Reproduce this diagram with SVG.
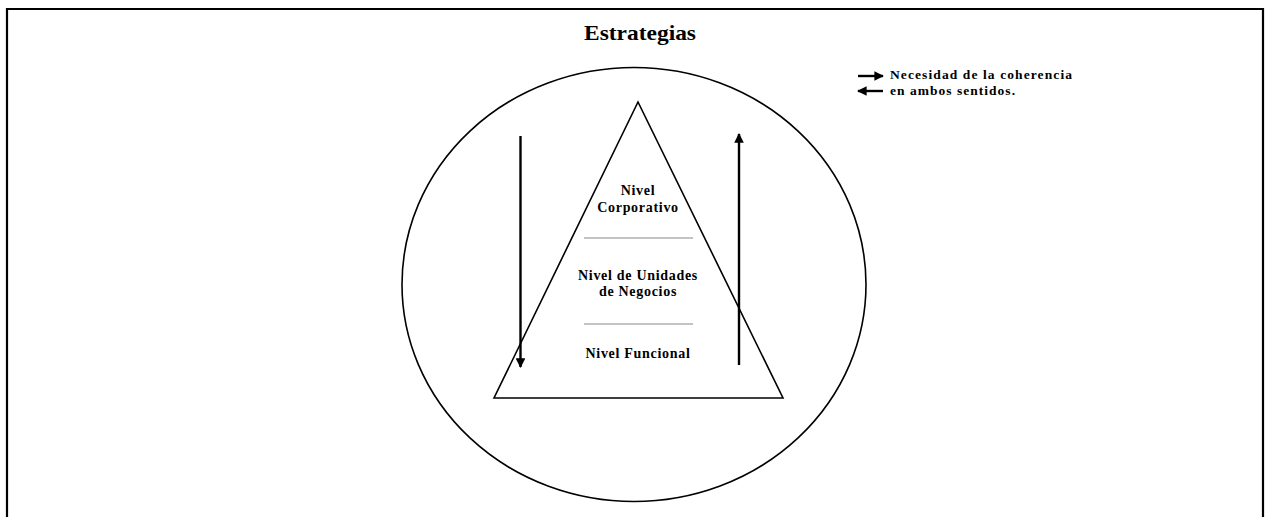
<svg xmlns="http://www.w3.org/2000/svg" width="1269" height="517" viewBox="0 0 1269 517">
<style>
.t{font-family:"Liberation Serif","Times New Roman",serif;font-weight:bold;fill:#000}
.lbl{font-size:14px;text-anchor:middle;letter-spacing:0.7px}
.leg{font-size:13.5px;letter-spacing:1px}
.ln{stroke:#000;stroke-width:1.6;fill:none}
.arr{stroke:#000;stroke-width:2.4;fill:none}
.sep{stroke:#888;stroke-width:1.2}
</style>
<defs>
<marker id="ah" viewBox="0 0 10 10" refX="9" refY="5" markerWidth="4" markerHeight="4" orient="auto" markerUnits="strokeWidth">
<path d="M0,0 L10,5 L0,10 z" fill="#000"/>
</marker>
</defs>
<rect width="1269" height="517" fill="#fff"/>
<g id="frame">
<path d="M7,517 L7,9 L1263,9 L1263,517" fill="none" stroke="#000" stroke-width="2.2"/>
</g>
<g id="title">
<text class="t" x="640" y="40" font-size="21" text-anchor="middle" textLength="112" lengthAdjust="spacingAndGlyphs">Estrategias</text>
</g>
<g id="circle">
<ellipse cx="634" cy="284.5" rx="232" ry="217" class="ln" stroke-width="1.5"/>
</g>
<g id="pyramid">
<polygon points="638,102 494,398 783,398" class="ln"/>
<line x1="584" y1="238" x2="693" y2="238" class="sep"/>
<line x1="584" y1="324" x2="693" y2="324" class="sep"/>
<text class="t lbl" x="638" y="195">Nivel</text>
<text class="t lbl" x="638" y="212">Corporativo</text>
<text class="t lbl" x="638" y="280">Nivel de Unidades</text>
<text class="t lbl" x="638" y="296">de Negocios</text>
<text class="t lbl" x="638" y="358">Nivel Funcional</text>
</g>
<g id="connectors">
<line x1="520.5" y1="136" x2="520.5" y2="367" class="arr" marker-end="url(#ah)"/>
<line x1="739" y1="365" x2="739" y2="134" class="arr" marker-end="url(#ah)"/>
</g>
<g id="legend">
<line x1="858" y1="76" x2="883" y2="76" class="arr" stroke-width="2" marker-end="url(#ah)"/>
<line x1="883" y1="91" x2="858" y2="91" class="arr" stroke-width="2" marker-end="url(#ah)"/>
<text class="t leg" x="890" y="79" textLength="183">Necesidad de la coherencia</text>
<text class="t leg" x="890" y="95" textLength="126">en ambos sentidos.</text>
</g>
</svg>
